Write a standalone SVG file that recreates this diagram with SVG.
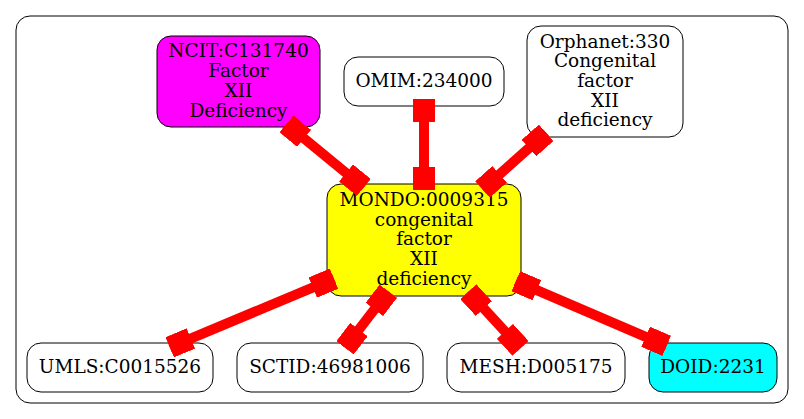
<svg xmlns="http://www.w3.org/2000/svg" width="804" height="419" viewBox="0 0 804 419">
<style>
.node rect{stroke:#000;stroke-width:1;}
.lbl{font-family:"DejaVu Serif","Liberation Serif",serif;font-size:18.5px;text-anchor:middle;fill:#000;}
.edge{stroke:#ff0000;stroke-width:10;fill:none;marker-start:url(#box);marker-end:url(#box);}
</style>
<defs>
<marker id="box" markerUnits="userSpaceOnUse" viewBox="-23 -11 23 22" refX="0" refY="0" markerWidth="23" markerHeight="22" orient="auto-start-reverse">
<rect x="-23" y="-11" width="23" height="22" fill="#ff0000"/>
</marker>
</defs>
<rect width="804" height="419" fill="#fff"/>
<rect id="cluster" x="16" y="16" width="772" height="387" rx="14" fill="#fff" stroke="#000" stroke-width="1"/>
<g id="ncit" class="node"><rect x="157" y="36" width="163" height="91" rx="14" fill="#ff00ff"/>
<text class="lbl" x="238.5" y="57.4">NCIT:C131740</text><text class="lbl" x="238.5" y="77.1">Factor</text><text class="lbl" x="238.5" y="96.8">XII</text><text class="lbl" x="238.5" y="116.5">Deficiency</text></g>
<g id="omim" class="node"><rect x="344" y="57" width="160" height="49" rx="14" fill="#fff"/>
<text class="lbl" x="424" y="87">OMIM:234000</text></g>
<g id="orphanet" class="node"><rect x="527" y="26" width="156" height="111" rx="14" fill="#fff"/>
<text class="lbl" x="605" y="47.6">Orphanet:330</text><text class="lbl" x="605" y="67.3">Congenital</text><text class="lbl" x="605" y="87">factor</text><text class="lbl" x="605" y="106.7">XII</text><text class="lbl" x="605" y="126.4">deficiency</text></g>
<g id="mondo" class="node"><rect x="327" y="184" width="194" height="112" rx="14" fill="#ffff00"/>
<text class="lbl" x="424" y="205.9">MONDO:0009315</text><text class="lbl" x="424" y="225.6">congenital</text><text class="lbl" x="424" y="245.3">factor</text><text class="lbl" x="424" y="265">XII</text><text class="lbl" x="424" y="284.7">deficiency</text></g>
<g id="umls" class="node"><rect x="27" y="343" width="186" height="49" rx="14" fill="#fff"/>
<text class="lbl" x="120" y="373">UMLS:C0015526</text></g>
<g id="sctid" class="node"><rect x="237" y="343" width="186" height="49" rx="14" fill="#fff"/>
<text class="lbl" x="330" y="373">SCTID:46981006</text></g>
<g id="mesh" class="node"><rect x="447" y="343" width="178" height="49" rx="14" fill="#fff"/>
<text class="lbl" x="536" y="373">MESH:D005175</text></g>
<g id="doid" class="node"><rect x="649" y="343" width="128" height="49" rx="14" fill="#00ffff"/>
<text class="lbl" x="713" y="373">DOID:2231</text></g>
<g id="connectors">
<line class="edge" x1="424" y1="99" x2="424" y2="190"/>
<line class="edge" x1="286.3" y1="123.8" x2="363.8" y2="187.5"/>
<line class="edge" x1="546.2" y1="132.8" x2="482.5" y2="189.5"/>
<line class="edge" x1="334" y1="278.7" x2="169.7" y2="347.3"/>
<line class="edge" x1="388.3" y1="291.2" x2="345" y2="347.8"/>
<line class="edge" x1="468.3" y1="291.7" x2="520.5" y2="348.3"/>
<line class="edge" x1="515.8" y1="281.2" x2="666.7" y2="345.8"/>
</g>
</svg>
